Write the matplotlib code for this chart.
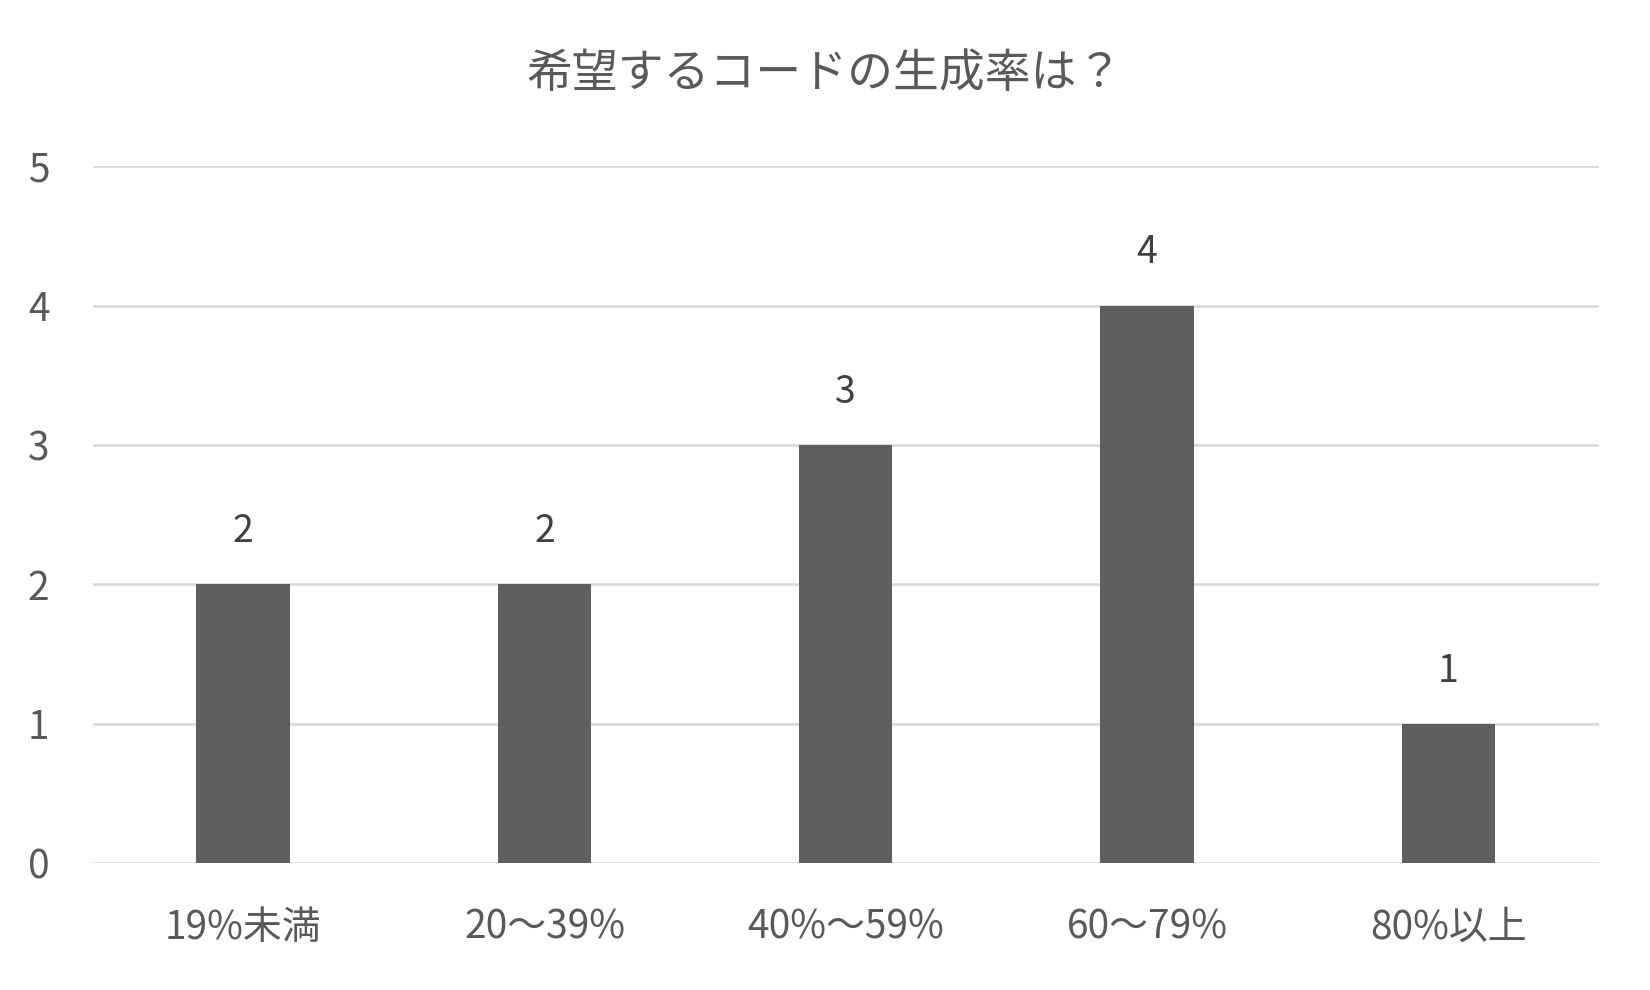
import matplotlib
matplotlib.use("Agg")
import matplotlib.pyplot as plt

plt.rcParams["font.family"] = ["Noto Sans CJK JP", "DejaVu Sans"]

categories = ["19%未満", "20～39%", "40%～59%", "60～79%", "80%以上"]
counts = [2, 2, 3, 4, 1]
title = "希望するコードの生成率は？"

TEXT = "#595959"
BAR = "#5f5f5f"
GRID = "#d9d9d9"

fig = plt.figure(figsize=(16.5, 9.9), dpi=100)
ax = fig.add_axes([0.0561, 0.128, 0.9129, 0.704])

x = range(len(categories))
bars = ax.bar(x, counts, width=0.31, color=BAR, zorder=3)

# value labels above each bar
for b, v in zip(bars, counts):
    ax.annotate(str(v), (b.get_x() + b.get_width() / 2, v),
                xytext=(0, 38), textcoords="offset points",
                ha="center", va="center", fontsize=27, color="#404040")

ax.set_xlim(-0.5, len(categories) - 0.5)
ax.set_ylim(0, 5)
ax.set_yticks(range(6))
ax.set_xticks(list(x))
ax.set_xticklabels(categories)

ax.grid(axis="y", color=GRID, linewidth=1.9, zorder=0)
ax.set_axisbelow(True)
for s in ax.spines.values():
    s.set_visible(False)
ax.tick_params(axis="both", length=0, labelsize=28, labelcolor=TEXT)
ax.tick_params(axis="y", pad=31)
ax.tick_params(axis="x", pad=32)

fig.text(0.5, 1 - 74 / 990, title, ha="center", va="center",
         fontsize=33, color=TEXT)

fig.savefig("out.png", dpi=100, facecolor="white")
